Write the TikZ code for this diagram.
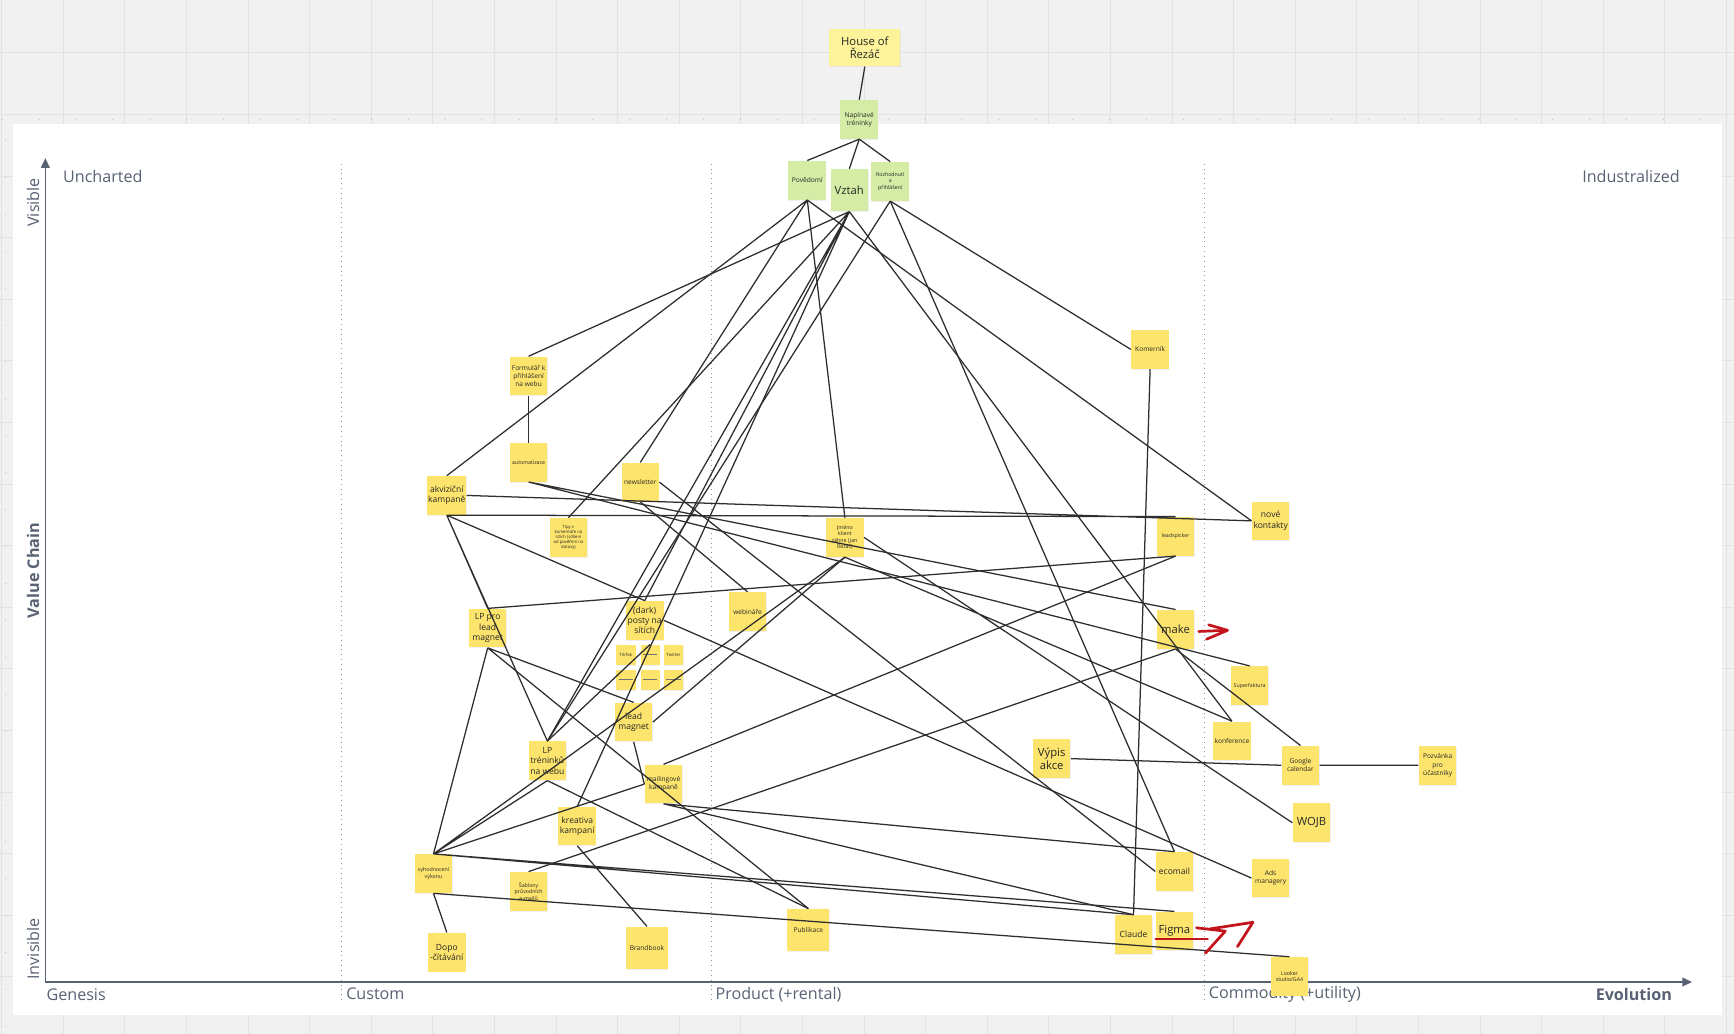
\documentclass[tikz,border=0pt]{standalone}
\usepackage{fontspec}
\setmainfont{Open Sans}
\usetikzlibrary{arrows.meta,shadows}

\definecolor{boardgrey}{HTML}{F1F1F2}
\definecolor{gridgrey}{HTML}{E2E2E4}
\definecolor{axisgrey}{HTML}{586273}
\definecolor{sepgrey}{HTML}{8C96A5}
\definecolor{stickyyellow}{HTML}{FDE46D}
\definecolor{stickypale}{HTML}{FCF39A}
\definecolor{stickygreen}{HTML}{D4ECA5}
\definecolor{penred}{HTML}{C4141B}

\tikzset{
  sizeA/.style={font=\fontsize{5.8}{6.8}\selectfont},
  sizeB/.style={font=\fontsize{4.4}{5.3}\selectfont},
  sizeC/.style={font=\fontsize{3.4}{4.2}\selectfont},
  sizeD/.style={font=\fontsize{2.7}{3.4}\selectfont},
  sizeE/.style={font=\fontsize{2.2}{2.7}\selectfont},
  sticky/.style={fill=stickyyellow,minimum width=0.68cm,minimum height=0.7cm,inner sep=0.4pt,
    align=center,text=black!85,sizeC,drop shadow={opacity=0.12,shadow xshift=0.2pt,shadow yshift=-0.5pt}},
  greensticky/.style={sticky,fill=stickygreen},
  smallsticky/.style={sticky,minimum width=0.35cm,minimum height=0.36cm,sizeE},
  link/.style={draw=black!82,line width=0.65pt},
  axislabel/.style={text=axisgrey,font=\fontsize{8.3}{10}\selectfont,inner sep=1pt},
  sepline/.style={draw=sepgrey,line width=0.5pt,dotted},
  redpen/.style={draw=penred,line width=1.4pt,line cap=round,line join=round},
}

\begin{document}
\begin{tikzpicture}[x=0.02cm,y=-0.02cm]
\useasboundingbox (0,0) rectangle (1568,935);
% board and grid
\fill[boardgrey] (0,0) rectangle (1568,935);
\foreach \gx in {0,...,28} \draw[gridgrey,line width=0.4pt] (1.5+55.7*\gx,0) -- (1.5+55.7*\gx,935);
\foreach \gy in {0,...,16} \draw[gridgrey,line width=0.4pt] (0,-8+55.7*\gy) -- (1568,-8+55.7*\gy);
\fill[white] (12,112) rectangle (1557,918);
\draw[gray!45,line width=0.7pt,line cap=round,dash pattern=on 0pt off 19pt] (2,108) -- (1568,108);
\draw[gray!45,line width=0.7pt,line cap=round,dash pattern=on 0pt off 19pt] (5,127) -- (5,935);

% axes
\draw[axisgrey,line width=0.8pt,-{Triangle[length=5pt,width=4.5pt]}] (41,888) -- (41,143);
\draw[axisgrey,line width=0.8pt,-{Triangle[length=5pt,width=4.5pt]}] (41,888) -- (1530,888);
\draw[sepline] (309,148) -- (309,905);
\draw[sepline] (643,148) -- (643,905);
\draw[sepline] (1089,148) -- (1089,905);

\node[axislabel,rotate=90] (visible) at (30,183) {Visible};
\node[axislabel,rotate=90,font=\fontsize{8.3}{10}\bfseries] (valuechain) at (30,516) {Value Chain};
\node[axislabel,rotate=90] (invisible) at (30,858) {Invisible};
\node[axislabel,anchor=west] (uncharted) at (55,160) {Uncharted};
\node[axislabel,anchor=east] (industralized) at (1521,160) {Industralized};
\node[axislabel,anchor=west] (genesis) at (40,899) {Genesis};
\node[axislabel,anchor=west] (custom) at (311,899) {Custom};
\node[axislabel,anchor=west] (product) at (645,899) {Product (+rental)};
\node[axislabel,anchor=west] (commodity) at (1091,899) {Commodity (+utility)};
\node[axislabel,anchor=east,font=\fontsize{8.3}{10}\bfseries] (evolution) at (1514,899) {Evolution};

% stickies, top
\node[sticky,fill=stickypale,minimum width=1.28cm,minimum height=0.68cm,sizeA] (house) at (782,43) {House of\\Řezáč};
\node[greensticky] (napinave) at (777,108) {Napínavé\\tréninky};
\node[greensticky] (povedomi) at (730,163) {Povědomí};
\node[greensticky,minimum height=0.76cm,sizeA] (vztah) at (768,172) {Vztah};
\node[greensticky,sizeD] (rozhodnuti) at (805,164) {Rozhodnutí\\a\\přihlášení};

% stickies, map
\node[sticky] (komernik) at (1040,316) {Komerník};
\node[sticky] (formular) at (478,340) {Formulář k\\přihlášení\\na webu};
\node[sticky,sizeD] (automatizace) at (478,418) {automatizace};
\node[sticky,sizeB] (akvizicni) at (404,448) {akviziční\\kampaně};
\node[sticky] (newsletter) at (579,436) {newsletter};
\node[sticky,sizeE] (tipy) at (514,486) {Tipy v\\komentáře na\\sítích (sdílení\\od pověření na\\dotazy)};
\node[sticky,sizeD] (jmeno) at (764,486) {Jméno\\klient\\táhne (Jan\\Řezáč)};
\node[sticky,sizeD] (leadspicker) at (1063,485) {leadspicker};
\node[sticky,sizeB] (novekontakty) at (1149,471) {nové\\kontakty};
\node[sticky,sizeB] (lplead) at (441,568) {LP pro\\lead\\magnet};
\node[sticky,sizeB] (darkposty) at (583,561) {(dark)\\posty na\\sítích};
\node[sticky] (webinare) at (676,553) {webináře};
\node[sticky,sizeA] (make) at (1063,569) {make};
\node[smallsticky] (tiktok) at (566,592) {TikTok};
\node[smallsticky] (blankA) at (588,592) {\textcolor{black!55}{\rule[0.25ex]{0.26cm}{0.5pt}}};
\node[smallsticky] (twitter) at (609,592) {Twitter};
\node[smallsticky] (blankB) at (566,615) {\textcolor{black!55}{\rule[0.25ex]{0.26cm}{0.5pt}}};
\node[smallsticky] (blankC) at (588,615) {\textcolor{black!55}{\rule[0.25ex]{0.26cm}{0.5pt}}};
\node[smallsticky] (blankD) at (609,615) {\textcolor{black!55}{\rule[0.25ex]{0.26cm}{0.5pt}}};
\node[sticky,sizeD] (superfaktura) at (1130,620) {Superfaktura};
\node[sticky,sizeB] (leadmagnet) at (573,653) {lead\\magnet};
\node[sticky] (konference) at (1114,670) {konference};
\node[sticky,sizeA] (vypis) at (951,686) {Výpis\\akce};
\node[sticky,sizeB] (lptreninku) at (495,688) {LP\\tréninků\\na webu};
\node[sticky] (gcal) at (1176,692) {Google\\calendar};
\node[sticky] (pozvanka) at (1300,692) {Pozvánka\\pro\\účastníky};
\node[sticky] (mailing) at (600,709) {mailingové\\kampaně};
\node[sticky,sizeA] (wojb) at (1186,744) {WOJB};
\node[sticky,sizeB] (kreativa) at (522,747) {kreativa\\kampaní};
\node[sticky,sizeD] (vyhodnoceni) at (392,790) {vyhodnocení\\výkonu};
\node[sticky,sizeB] (ecomail) at (1062,788) {ecomail};
\node[sticky] (ads) at (1149,794) {Ads\\managery};
\node[sticky,sizeD] (sablony) at (478,806) {Šablony\\průvodních\\e-mailů};
\node[sticky,minimum width=0.76cm,minimum height=0.76cm] (publikace) at (731,841) {Publikace};
\node[sticky,sizeB] (claude) at (1025,845) {Claude};
\node[sticky,sizeA] (figma) at (1062,842) {Figma};
\node[sticky,sizeB] (dopo) at (404,861) {Dopo\\-čítávání};
\node[sticky,minimum width=0.76cm,minimum height=0.76cm] (brandbook) at (585,857) {Brandbook};
\node[sticky,sizeD] (looker) at (1166,883) {Looker\\studio/GA4};

% links
\draw[link] (house.south) -- (napinave.north);
\draw[link] (napinave.south) -- (povedomi.north) (napinave.south) -- (vztah.north) (napinave.south) -- (rozhodnuti.north);
\draw[link] (povedomi.south) -- (akvizicni.north) (povedomi.south) -- (novekontakty.west)
  (povedomi.south) -- (jmeno.north) (povedomi.south) -- (newsletter.north);
\draw[link] (vztah.south) -- (formular.north) (vztah.south) -- (tipy.north) (vztah.south) -- (darkposty.north)
  (vztah.south) -- (lptreninku.north) (vztah.south) -- (kreativa.north) (vztah.south) -- (konference.north);
\draw[link] (rozhodnuti.south) -- (komernik.west) (rozhodnuti.south) -- (ecomail.north)
  (rozhodnuti.south) -- (lptreninku.north);
\draw[link] (komernik.south) -- (claude.north);
\draw[link] (formular.south) -- (automatizace.north);
\draw[link] (automatizace.south) -- (make.north) (automatizace.south) -- (superfaktura.north);
\draw[link] (akvizicni.east) -- (novekontakty.west) (akvizicni.south) -- (leadspicker.north)
  (akvizicni.south) -- (lplead.north) (akvizicni.south) -- (lptreninku.north) (akvizicni.south) -- (darkposty.north);
\draw[link] (newsletter.south) -- (webinare.north) (newsletter.east) -- (ecomail.west);
\draw[link] (lplead.north) -- (leadspicker.south) (lplead.south) -- (vyhodnoceni.north)
  (lplead.south) -- (leadmagnet.north) (lplead.south) -- (publikace.north);
\draw[link] (lptreninku.north) -- (blankA.north) (lptreninku.south) -- (publikace.north);
\draw[link] (leadmagnet.east) -- (jmeno.south) (leadmagnet.south) -- (mailing.west);
\draw[link] (jmeno.south) -- (konference.north) (jmeno.east) -- (wojb.west);
\draw[link] (mailing.north) -- (leadspicker.south) (mailing.south) -- (ecomail.north) (mailing.south) -- (claude.north);
\draw[link] (darkposty.east) -- (ads.west);
\draw[link] (sablony.north) -- (make.south) (make.south) -- (gcal.north);
\draw[link] (vypis.east) -- (gcal.west) (gcal.east) -- (pozvanka.west);
\draw[link] (kreativa.south) -- (brandbook.north);
\draw[link] (vyhodnoceni.north) -- (jmeno.south) (vyhodnoceni.north) -- (lptreninku.south)
  (vyhodnoceni.north) -- (mailing.west) (vyhodnoceni.north) -- (claude.north) (vyhodnoceni.north) -- (figma.north);
\draw[link] (vyhodnoceni.south) -- (looker.north) (vyhodnoceni.south) -- (dopo.north);

% red pen marks
\draw[redpen] (1084,571) -- (1109,570);
\draw[redpen] (1093,565) -- (1110,570) -- (1091,578);
\draw[redpen] (1045,849) -- (1092,849);
\draw[redpen] (1082,839) -- (1108,842) -- (1090,862);
\draw[redpen] (1094,840) -- (1133,834) -- (1119,856);
\end{tikzpicture}
\end{document}
